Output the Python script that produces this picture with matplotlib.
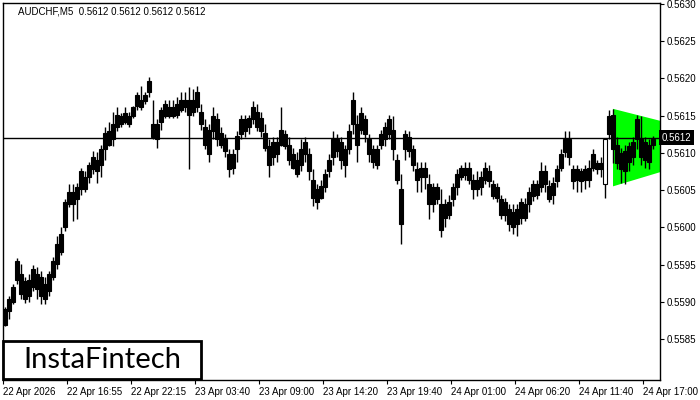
import matplotlib
matplotlib.use('Agg')
import matplotlib.pyplot as plt
import matplotlib.transforms as mtransforms
import numpy as np

plt.rcParams['font.family'] = ['Liberation Sans', 'DejaVu Sans']

# AUDCHF 20-minute bars, prices in points (1e-5)
bar_high = [55893, 55908, 55924, 55959, 55951, 55933, 55938, 55949, 55947, 55941,
            55933, 55941, 55960, 55988, 56000, 56038, 56058, 56058, 56060, 56080,
            56075, 56088, 56102, 56101, 56111, 56134, 56141, 56155, 56161, 56154,
            56161, 56155, 56163, 56182, 56189, 56182, 56202, 56171, 56145, 56162,
            56171, 56171, 56171, 56175, 56181, 56181, 56188, 56185, 56190, 56165,
            56145, 56138, 56161, 56154, 56134, 56125, 56105, 56105, 56129, 56151,
            56151, 56151, 56169, 56165, 56155, 56138, 56118, 56121, 56121, 56161,
            56131, 56121, 56107, 56101, 56118, 56121, 56107, 56078, 56058, 56064,
            56078, 56098, 56129, 56125, 56121, 56111, 56138, 56181, 56151, 56161,
            56151, 56125, 56111, 56111, 56131, 56142, 56151, 56149, 56098, 56071,
            56131, 56129, 56111, 56088, 56088, 56088, 56071, 56060, 56060, 56051,
            56038, 56044, 56060, 56078, 56084, 56088, 56088, 56071, 56075, 56075,
            56088, 56084, 56064, 56060, 56044, 56040, 56031, 56031, 56031, 56040,
            56040, 56054, 56064, 56064, 56088, 56084, 56064, 56067, 56084, 56105,
            56129, 56129, 56084, 56084, 56080, 56084, 56091, 56105, 56091, 56094,
            56119, 56158, 56159, 56121, 56107, 56111, 56115, 56121, 56151, 56149,
            56121, 56118, 56122]
bar_low = [55868, 55877, 55897, 55924, 55904, 55898, 55900, 55914, 55904, 55897,
           55897, 55908, 55930, 55944, 55963, 55995, 56027, 56008, 56011, 56044,
           56048, 56060, 56071, 56060, 56068, 56091, 56109, 56109, 56129, 56135,
           56138, 56135, 56147, 56158, 56158, 56166, 56175, 56118, 56107, 56131,
           56147, 56147, 56147, 56147, 56155, 56155, 56078, 56149, 56155, 56131,
           56105, 56088, 56118, 56109, 56107, 56094, 56067, 56071, 56088, 56118,
           56121, 56125, 56138, 56129, 56121, 56102, 56068, 56084, 56088, 56109,
           56105, 56084, 56078, 56068, 56075, 56088, 56064, 56028, 56024, 56038,
           56048, 56067, 56084, 56095, 56078, 56068, 56098, 56125, 56088, 56125,
           56115, 56088, 56080, 56078, 56105, 56109, 56118, 56091, 56058, 55977,
           56091, 56094, 56075, 56048, 56048, 56051, 56011, 56020, 56031, 55987,
           56000, 56011, 56028, 56044, 56064, 56064, 56058, 56038, 56042, 56044,
           56058, 56054, 56038, 56034, 56011, 56008, 55995, 55991, 55988, 56004,
           56008, 56021, 56035, 56038, 56048, 56048, 56034, 56031, 56054, 56075,
           56094, 56084, 56051, 56048, 56048, 56051, 56054, 56075, 56071, 56067,
           56040, 56118, 56087, 56078, 56060, 56058, 56075, 56084, 56105, 56084,
           56080, 56078, 56105]
bar_open = [55890, 55904, 55920, 55955, 55937, 55928, 55930, 55944, 55937, 55933,
            55924, 55937, 55955, 55977, 55991, 56034, 56048, 56048, 56054, 56075,
            56068, 56084, 56094, 56091, 56105, 56127, 56129, 56138, 56151, 56149,
            56154, 56149, 56161, 56178, 56171, 56178, 56196, 56138, 56138, 56158,
            56165, 56161, 56161, 56165, 56171, 56171, 56171, 56171, 56181, 56155,
            56134, 56131, 56149, 56145, 56127, 56118, 56098, 56098, 56122, 56145,
            56145, 56147, 56161, 56155, 56147, 56127, 56109, 56114, 56114, 56131,
            56125, 56111, 56098, 56091, 56105, 56115, 56098, 56064, 56051, 56055,
            56071, 56091, 56118, 56118, 56114, 56105, 56129, 56171, 56138, 56154,
            56145, 56118, 56105, 56105, 56125, 56134, 56145, 56131, 56091, 56051,
            56125, 56121, 56105, 56078, 56080, 56080, 56058, 56054, 56054, 56031,
            56031, 56034, 56054, 56071, 56080, 56080, 56080, 56064, 56064, 56067,
            56080, 56075, 56058, 56054, 56038, 56034, 56024, 56020, 56024, 56034,
            56031, 56047, 56058, 56058, 56075, 56075, 56055, 56060, 56078, 56098,
            56118, 56118, 56078, 56078, 56075, 56078, 56080, 56098, 56087, 56087,
            56058, 56149, 56151, 56111, 56100, 56102, 56109, 56114, 56145, 56118,
            56114, 56111, 56119]
bar_close = [55869, 55888, 55900, 55930, 55910, 55904, 55908, 55920, 55917, 55908,
             55904, 55914, 55934, 55951, 55967, 56000, 56031, 56031, 56038, 56051,
             56051, 56067, 56078, 56075, 56084, 56105, 56111, 56118, 56134, 56138,
             56142, 56138, 56150, 56163, 56161, 56169, 56181, 56121, 56118, 56141,
             56149, 56149, 56149, 56151, 56158, 56161, 56151, 56155, 56161, 56138,
             56111, 56098, 56129, 56118, 56111, 56102, 56078, 56080, 56105, 56125,
             56129, 56134, 56145, 56134, 56129, 56107, 56084, 56094, 56098, 56111,
             56109, 56091, 56080, 56071, 56084, 56098, 56075, 56040, 56034, 56040,
             56054, 56075, 56094, 56102, 56091, 56084, 56105, 56138, 56111, 56131,
             56125, 56098, 56088, 56084, 56111, 56118, 56125, 56105, 56064, 56004,
             56105, 56102, 56084, 56064, 56067, 56067, 56031, 56031, 56038, 55997,
             56013, 56017, 56038, 56054, 56068, 56070, 56064, 56051, 56051, 56054,
             56064, 56062, 56042, 56040, 56017, 56017, 56004, 56000, 56004, 56013,
             56013, 56031, 56042, 56044, 56054, 56058, 56038, 56044, 56062, 56080,
             56101, 56094, 56062, 56064, 56062, 56064, 56064, 56080, 56078, 56078,
             56118, 56125, 56105, 56087, 56078, 56075, 56088, 56094, 56118, 56094,
             56091, 56088, 56111]

last_price = 0.5612
tri_top = [0.56159, 0.56143]
tri_bot = [0.56055, 0.56074]
tri_start_min = 3050

tick_labels = ['22 Apr 2026', '22 Apr 16:55', '22 Apr 22:15', '23 Apr 03:40', '23 Apr 09:00',
               '23 Apr 14:20', '23 Apr 19:40', '24 Apr 01:00', '24 Apr 06:20', '24 Apr 11:40',
               '24 Apr 17:00']
y_ticks = [0.5585, 0.5590, 0.5595, 0.5600, 0.5605, 0.5610, 0.5615, 0.5620, 0.5625, 0.5630]

hi = np.array(bar_high) / 1e5
lo = np.array(bar_low) / 1e5
op = np.array(bar_open) / 1e5
cl = np.array(bar_close) / 1e5
t = np.arange(len(hi)) * 20 + 10

fig = plt.figure(figsize=(7, 4), dpi=100)
ax = fig.add_axes([3/700, 20/400, 657/700, 377/400])
xmax = 657 * 5
ax.set_xlim(0, xmax)
ax.set_ylim(0.557952, 0.56301)

# pattern triangle
ax.fill([tri_start_min, xmax, xmax, tri_start_min],
        [tri_top[0], tri_top[1], tri_bot[1], tri_bot[0]],
        color='#00ff00', lw=0, zorder=1)

ax.axhline(last_price, color='black', lw=1, zorder=2)

ax.vlines(t, lo, hi, color='black', lw=1, zorder=3)
colors = ['white' if c > o else 'black' for o, c in zip(op, cl)]
ax.bar(t, np.abs(cl - op), bottom=np.minimum(op, cl), width=17,
       color=colors, edgecolor='black', linewidth=0.8, zorder=4)

ax.yaxis.tick_right()
ax.set_yticks(y_ticks)
ax.set_yticklabels(['%.4f' % v for v in y_ticks])
ax.set_xticks(np.arange(len(tick_labels)) * 320)
ax.set_xticklabels(tick_labels)
for lab in ax.get_xticklabels():
    lab.set_ha('left')
ax.tick_params(axis='both', labelsize=7, length=3, width=0.8, pad=2, colors='black')
for s in ax.spines.values():
    s.set_color('black')
    s.set_linewidth(1)

# current price label
trans = mtransforms.blended_transform_factory(ax.transAxes, ax.transData)
ax.text(1.003, last_price, '0.5612', transform=trans, color='white', fontsize=7,
        va='center', ha='left', bbox=dict(facecolor='black', edgecolor='none', pad=1.8))

fig.text(18/700, 1 - 11/400, 'AUDCHF,M5  0.5612 0.5612 0.5612 0.5612', fontsize=7,
         va='center', ha='left')

# logo
ax.add_patch(plt.Rectangle((3/700, 21/400), 198/700, 38/400, transform=fig.transFigure,
                           facecolor='white', edgecolor='black', lw=2, zorder=5, clip_on=False))
fig.text(102/700, 1 - 360/400, 'InstaFintech', fontsize=21, family='Lato',
         va='center', ha='center', zorder=6)

fig.savefig('out.png', dpi=100)
